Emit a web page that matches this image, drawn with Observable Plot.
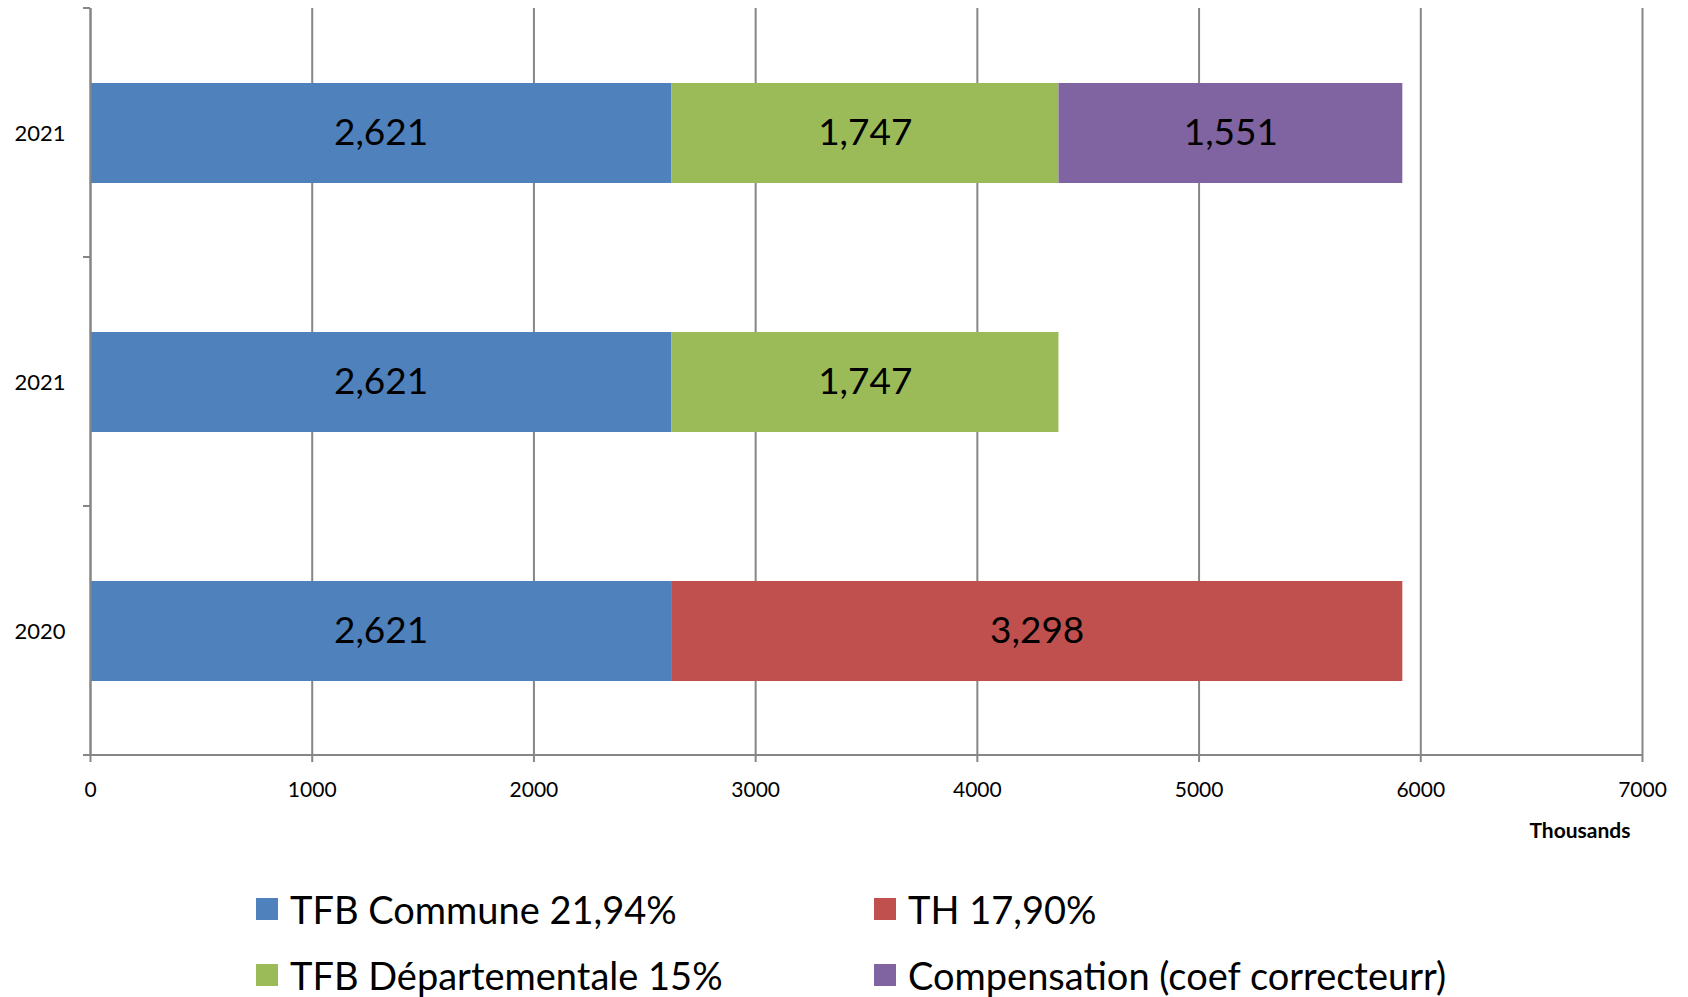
<!DOCTYPE html>
<html>
<head>
<meta charset="utf-8">
<script src="https://cdn.jsdelivr.net/npm/d3@7"></script>
<script src="https://cdn.jsdelivr.net/npm/@observablehq/plot@0.6"></script>
<style>
  html, body { margin: 0; padding: 0; background: #fff; overflow: hidden; }
  #wrap { position: relative; width: 1688px; height: 997px; font-family: Lato, "Open Sans", sans-serif; }
  #wrap svg { display: block; }
  .leg { position: absolute; display: flex; align-items: center; height: 44px; line-height: 44px; font-size: 38px; color: #000; white-space: nowrap; }
  .leg .sw { width: 22px; height: 22px; margin-right: 12px; flex: none; }
</style>
</head>
<body>
<div id="wrap"></div>
<script>
// ---- data ----
const rowKeys = ["2021 (avec compensation)", "2021", "2020"];
const rowLabels = ["2021", "2021", "2020"];
const seriesNames = ["TFB Commune 21,94%", "TH 17,90%", "TFB Départementale 15%", "Compensation (coef correcteurr)"];
const seriesColors = ["#4F81BD", "#C0504D", "#9BBB59", "#8064A2"];
const tfbCommune = [2621, 2621, 2621];
const th = [0, 0, 3298];
const tfbDepartementale = [1747, 1747, 0];
const compensation = [1551, 0, 0];
const xTicks = [0, 1000, 2000, 3000, 4000, 5000, 6000, 7000];
const axisTitle = ["Thousands"];

const seriesValues = [tfbCommune, th, tfbDepartementale, compensation];
const table = [];
rowKeys.forEach((row, i) => {
  seriesNames.forEach((s, j) => {
    const v = seriesValues[j][i];
    if (v > 0) table.push({row, series: s, value: v});
  });
});
const labelOf = new Map(rowKeys.map((k, i) => [k, rowLabels[i]]));
const grey = "#868686";

// custom axis lines: x baseline and y band-boundary ticks
function axisLines(index, scales, values, dims) {
  const {width, height, marginLeft, marginRight, marginTop, marginBottom} = dims;
  const g = d3.create("svg:g").attr("stroke", grey).attr("stroke-width", 2);
  const bottom = height - marginBottom;
  const n = rowKeys.length;
  g.append("line").attr("x1", marginLeft - 7).attr("x2", width - marginRight)
    .attr("y1", bottom).attr("y2", bottom);
  for (let i = 0; i <= n; i++) {
    const y = marginTop + i * (bottom - marginTop) / n;
    g.append("line").attr("x1", marginLeft - 7).attr("x2", marginLeft).attr("y1", y).attr("y2", y);
  }
  return g.node();
}

const chart = Plot.plot({
  width: 1688,
  height: 860,
  marginLeft: 90,
  marginRight: 46,
  marginTop: 8,
  marginBottom: 105,
  style: {fontFamily: "Lato, 'Open Sans', sans-serif", color: "#000", background: "#fff"},
  x: {domain: [0, 7000], ticks: xTicks, label: null},
  y: {domain: rowKeys, paddingInner: 0.6, paddingOuter: 0.3, label: null},
  color: {domain: seriesNames, range: seriesColors},
  marks: [
    Plot.gridX(xTicks, {stroke: grey, strokeOpacity: 1, strokeWidth: 2}),
    Plot.barX(table, Plot.stackX({x: "value", y: "row", fill: "series", order: seriesNames})),
    Plot.textX(table, Plot.stackX({x: "value", y: "row", z: "series", order: seriesNames,
      text: d => d3.format(",")(d.value), fontSize: 37, fill: "#000"})),
    Plot.ruleX([0], {stroke: grey, strokeWidth: 2}),
    axisLines,
    Plot.axisX({ticks: xTicks, tickSize: 7, tickPadding: 20, fontSize: 21, tickFormat: d3.format("d"), stroke: grey, strokeWidth: 2, fill: "#000", label: null}),
    Plot.axisY({tickSize: 0, tickPadding: 25, fontSize: 22, tickFormat: d => labelOf.get(d), label: null}),
    Plot.text(axisTitle, {frameAnchor: "bottom-right", dx: -12, dy: 82, textAnchor: "end", fontSize: 21, fontWeight: "bold", fill: "#000"})
  ]
});

const wrap = document.getElementById("wrap");
wrap.appendChild(chart);

// legend (row-major, two columns)
const legLeft = [256, 874];
const legCenterY = [909, 975];
seriesNames.forEach((s, i) => {
  const col = i % 2, row = Math.floor(i / 2);
  const item = document.createElement("div");
  item.className = "leg";
  item.style.left = legLeft[col] + "px";
  item.style.top = (legCenterY[row] - 22) + "px";
  const sw = document.createElement("span");
  sw.className = "sw";
  sw.style.background = seriesColors[i];
  const tx = document.createElement("span");
  tx.textContent = s;
  item.appendChild(sw);
  item.appendChild(tx);
  wrap.appendChild(item);
});
</script>
</body>
</html>
